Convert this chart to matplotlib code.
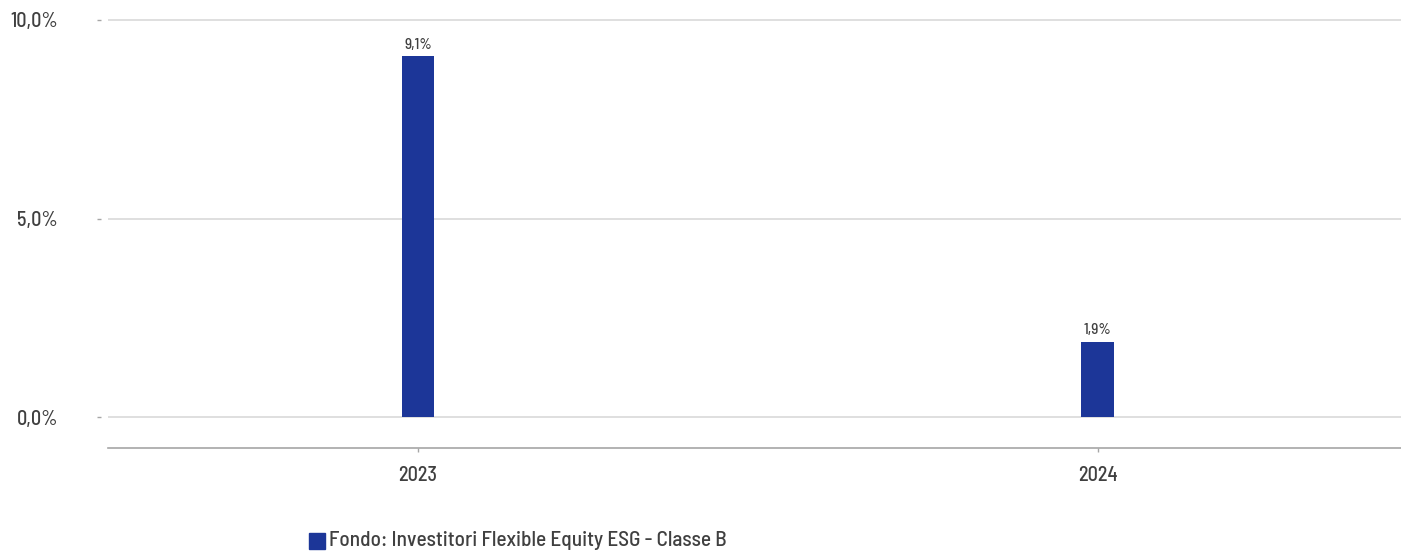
import matplotlib
matplotlib.use('Agg')
import matplotlib.pyplot as plt
from matplotlib.patches import Rectangle

# dati
anni = ['2023', '2024']
rendimenti = [9.1, 1.9]
etichette = ['9,1%', '1,9%']
yticks = [0, 5, 10]
ytick_labels = ['0,0%', '5,0%', '10,0%']
serie = 'Fondo: Investitori Flexible Equity ESG - Classe B'

blu = '#1c3698'
testo = '#404040'
plt.rcParams['font.family'] = ['Barlow Semi Condensed', 'Roboto', 'DejaVu Sans']
plt.rcParams['font.weight'] = 'medium'

fig = plt.figure(figsize=(14.01, 5.53), dpi=100)
W, H = 1401, 553
# axes in pixel: x 108..1401, y 18..448
ax = fig.add_axes([108/W, 1-448/H, (1401-108)/W, (448-18)/H])

x = list(range(len(anni)))
ax.bar(x, rendimenti, width=0.0485, color=blu, zorder=3)
for xi, v, lab in zip(x, rendimenti, etichette):
    ax.annotate(lab, (xi, v), xytext=(0, 3), textcoords='offset points',
                ha='center', va='bottom', fontsize=11, color=testo)

ax.set_xlim(-0.456, 1.446)
ax.set_ylim(-0.78, 10.05)
ax.set_yticks(yticks)
ax.set_yticklabels(ytick_labels)
ax.set_xticks(x)
ax.set_xticklabels(anni)
ax.yaxis.grid(True, color='#d9d9d9', linewidth=1.2, zorder=0)

for s in ['top', 'right', 'left']:
    ax.spines[s].set_visible(False)
ax.spines['bottom'].set_color('#a6a6a6')
ax.spines['bottom'].set_linewidth(1.2)

# pad e lunghezze in punti (1 pt = 1.39 px)
ax.tick_params(axis='y', length=3, width=1, color='#a6a6a6', pad=28,
               labelsize=14.5, labelcolor=testo)
ax.tick_params(axis='x', length=3, width=1, color='#a6a6a6', pad=10,
               labelsize=14.5, labelcolor=testo)
# sposta i tick y a sinistra rispetto alla griglia
ax.spines['left'].set_position(('outward', 5))

# legenda
fig.patches.append(Rectangle((309/W, 1-549/H), 16/W, 16/H, transform=fig.transFigure,
                             color=blu, figure=fig))
fig.text(329/W, 1-541/H, serie, ha='left', va='center', fontsize=15.3, color=testo)

fig.savefig('out.png', dpi=100)
